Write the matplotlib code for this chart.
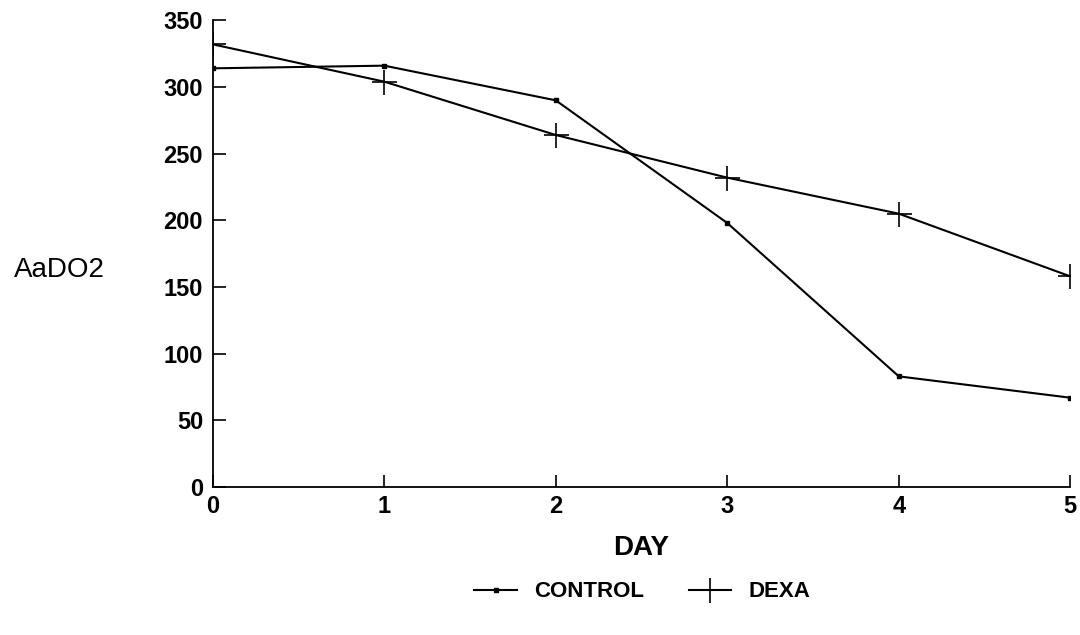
import matplotlib.pyplot as plt

days = [0, 1, 2, 3, 4, 5]
control = [314, 316, 290, 198, 83, 67]
dexa = [332, 304, 264, 232, 205, 158]
y_ticks = [0, 50, 100, 150, 200, 250, 300, 350]

plt.rcParams['font.family'] = ['Liberation Sans', 'DejaVu Sans']

fig = plt.figure(figsize=(10.8, 6.35), dpi=100)
ax = fig.add_axes([0.197, 0.233, 0.794, 0.735])

ax.plot(days, control, color='black', lw=1.5, marker='s', ms=3.5, label='CONTROL')
ax.plot(days, dexa, color='black', lw=1.5, marker='+', ms=18, mew=1.2, label='DEXA')

ax.set_xlim(0, 5)
ax.set_ylim(0, 350)
ax.set_xticks(days)
ax.set_yticks(y_ticks)
ax.spines['top'].set_visible(False)
ax.spines['right'].set_visible(False)
ax.spines['left'].set_linewidth(1.3)
ax.spines['bottom'].set_linewidth(1.3)
ax.tick_params(direction='in', length=9, width=1.2, labelsize=17)
ax.tick_params(axis='x', pad=6)
ax.tick_params(axis='y', pad=7)
for lbl in ax.get_xticklabels() + ax.get_yticklabels():
    lbl.set_fontweight('bold')

ax.set_xlabel("DAY", fontsize=20, fontweight='bold', labelpad=12)
fig.text(0.013, 0.575, "AaDO2", fontsize=20, va='center', ha='left')

fig.legend(loc='center', bbox_to_anchor=(0.595, 0.068), ncol=2, frameon=False,
           prop={'size': 16, 'weight': 'bold'}, handlelength=1.9, columnspacing=2.0)

fig.savefig("out.png", dpi=100)
